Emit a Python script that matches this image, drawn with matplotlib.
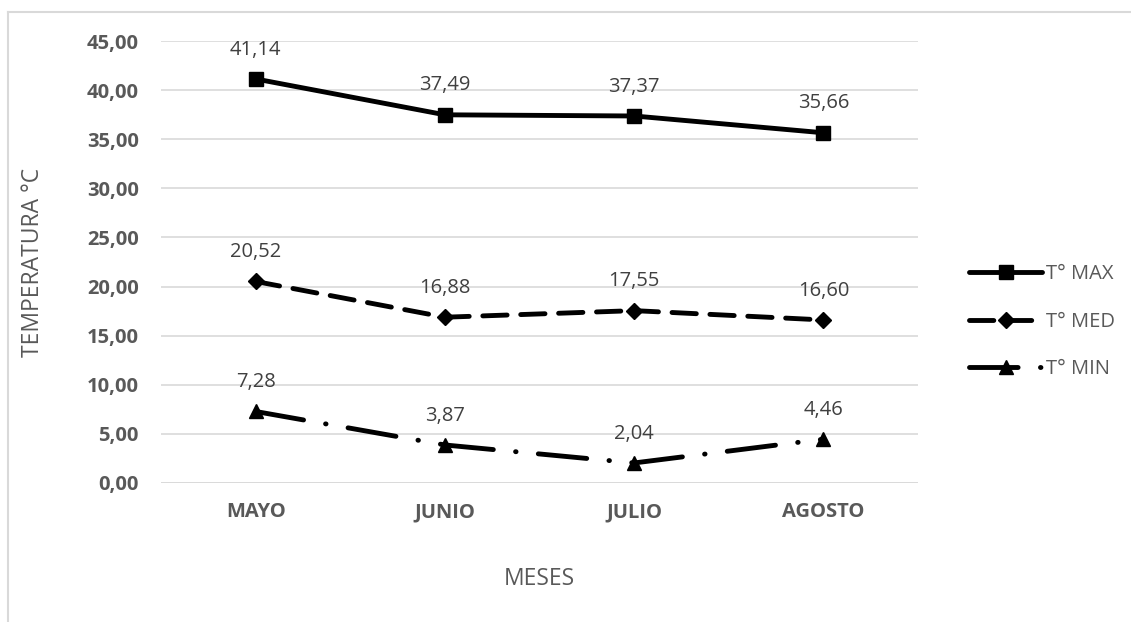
import matplotlib.pyplot as plt
from matplotlib.lines import Line2D

meses = ["MAYO", "JUNIO", "JULIO", "AGOSTO"]
t_max = [41.14, 37.49, 37.37, 35.66]
t_med = [20.52, 16.88, 17.55, 16.60]
t_min = [7.28, 3.87, 2.04, 4.46]
yticks = [0, 5, 10, 15, 20, 25, 30, 35, 40, 45]

plt.rcParams['font.family'] = ['Open Sans', 'DejaVu Sans']
gris = '#595959'

fig = plt.figure(figsize=(11.31, 6.22), dpi=100)
ax = fig.add_axes([0.1424, 0.2235, 0.6693, 0.7105])

x = list(range(len(meses)))
series = [
    ("T° MAX", t_max, 's', '-', 9.5),
    ("T° MED", t_med, 'D', (0, (5.0, 2.8)), 8.5),
    ("T° MIN", t_min, '^', (0, (10.0, 4.6, 0.1, 4.6)), 10),
]
estilo = dict(color='black', lw=3.5, dash_capstyle='round',
              solid_capstyle='round')
handles = []
for nombre, vals, mk, ls, ms in series:
    # cada tramo por separado para que el patrón empiece en cada punto
    for i in range(len(x) - 1):
        ax.plot(x[i:i + 2], vals[i:i + 2], linestyle=ls, zorder=3, **estilo)
    ax.plot(x, vals, linestyle='none', marker=mk, markersize=ms,
            color='black', zorder=4)
    h, = ax.plot([], [], linestyle=ls, marker=mk, markersize=ms, **estilo)
    handles.append(h)
    for xi, v in zip(x, vals):
        ax.annotate(f"{v:.2f}".replace('.', ','), (xi, v), xytext=(0, 14),
                    textcoords='offset points', ha='center', va='bottom',
                    fontsize=14.5, color='#404040')

ax.set_xlim(-0.5, len(meses) - 0.5)
ax.set_ylim(0, 45)
ax.set_yticks(yticks)
ax.set_yticklabels([f"{t:.2f}".replace('.', ',') for t in yticks],
                   fontsize=14.5, fontweight='bold', color=gris)
ax.set_xticks(x)
ax.set_xticklabels(meses, fontsize=14.5, fontweight='bold', color=gris)
ax.tick_params(length=0)
ax.tick_params(axis='x', pad=14)
ax.tick_params(axis='y', pad=16)
ax.grid(axis='y', color='#d9d9d9', lw=1.2)
ax.set_axisbelow(True)
for s in ax.spines.values():
    s.set_visible(False)
ax.axhline(0, color='#d9d9d9', lw=1.2, zorder=1)

ax.set_ylabel("TEMPERATURA °C", fontsize=16.5, color=gris, labelpad=30)
ax.set_xlabel("MESES", fontsize=16.5, color=gris, labelpad=32)

fig.legend(handles=handles, labels=[s[0] for s in series],
           loc='center left', bbox_to_anchor=(0.841, 0.483),
           frameon=False, fontsize=14.5, labelcolor=gris,
           handlelength=3.6, handletextpad=0.2, labelspacing=1.35)

# marco del gráfico
fig.add_artist(Line2D([0.0075, 0.0075], [0.0, 0.981], color='#d9d9d9', lw=1.5))
fig.add_artist(Line2D([0.0075, 1.0], [0.981, 0.981], color='#d9d9d9', lw=1.5))

fig.savefig("out.png", dpi=100)
